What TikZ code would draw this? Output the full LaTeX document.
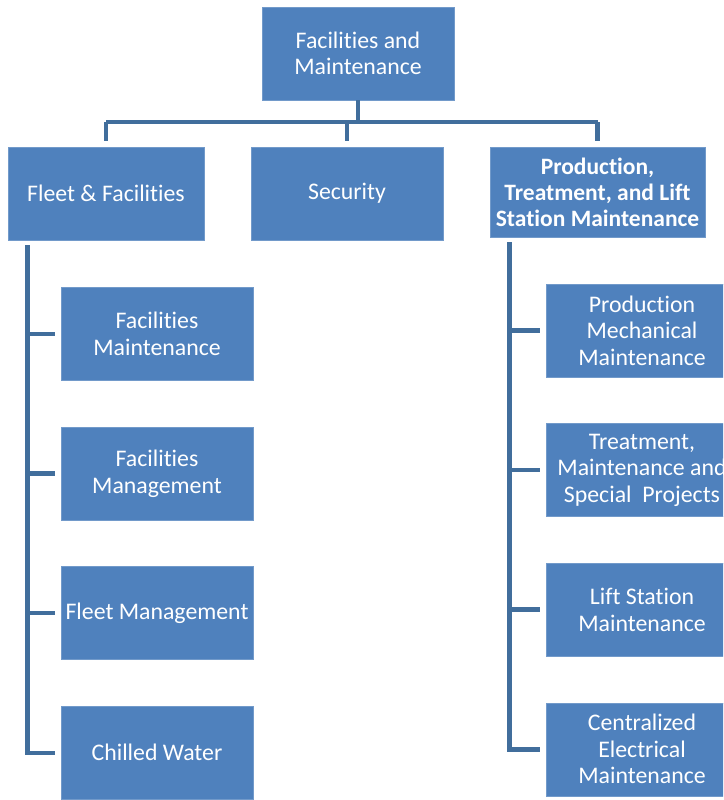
\documentclass[tikz,border=0pt]{standalone}
\usepackage{fontspec}
\setmainfont{Carlito}[Ligatures=NoCommon]
\usepackage{xcolor}
\usetikzlibrary{positioning}

\definecolor{boxblue}{RGB}{79,129,189}
\definecolor{lineblue}{RGB}{65,110,156}

\begin{document}
\begin{tikzpicture}[
  x=1pt, y=-1pt,
  box/.style={fill=boxblue, draw=boxblue!80!white, line width=0.6pt, text=white,
              minimum width=192pt, minimum height=93pt, align=center,
              font=\fontsize{23.8}{26.5}\selectfont, inner sep=1pt},
  conn/.style={draw=lineblue, line width=4.5pt},
  node distance=46pt
]
  \useasboundingbox (0,0) rectangle (723,800);
  \clip (0,0) rectangle (723,800);

  % top level
  \node[box] (head) at (358,53.5) {Facilities and\\Maintenance};

  % second level
  \node[box, minimum width=196pt] (fleet) at (106,193.5) {Fleet \& Facilities};
  \node[box] (security) at (347,193.5) {Security};
  \node[box, minimum width=215pt, minimum height=90pt, font=\fontsize{23.5}{26}\selectfont\bfseries]
    (prod) at (597.5,192) {Production,\\Treatment, and Lift\\Station Maintenance};

  % fleet & facilities units
  \node[box] (fmaint) at (157,334) {Facilities\\Maintenance};
  \node[box, below=of fmaint] (fmgmt) {Facilities\\Management};
  \node[box, below=of fmgmt] (fleetmgmt) {Fleet Management};
  \node[box, below=of fleetmgmt] (chilled) {Chilled Water};

  % production units
  \node[box] (pmech) at (642,330.5) {Production\\Mechanical\\Maintenance};
  \node[box, below=of pmech] (treat) {Treatment,\\Maintenance and\\Special\ \ Projects};
  \node[box, below=of treat] (lift) {Lift Station\\Maintenance};
  \node[box, below=of lift] (elec) {Centralized\\Electrical\\Maintenance};

  % connectors, top
  \coordinate (bar) at (358,122);
  \draw[conn] (head.south) -- (bar);
  \draw[conn] (fleet.north |- bar) -- (prod.north |- bar);
  \draw[conn, shorten >=6pt] (bar -| fleet.north) -- (fleet.north);
  \draw[conn, shorten >=6pt] (bar -| security.north) -- (security.north);
  \draw[conn, shorten >=6pt] (bar -| prod.north) -- (prod.north);

  % left spine
  \coordinate (spineL) at ([xshift=20pt, yshift=-5pt]fleet.south west);
  \draw[conn] (spineL) |- ([xshift=-6pt]chilled.west);
  \foreach \n in {fmaint, fmgmt, fleetmgmt}
    \draw[conn] (spineL |- \n.west) -- ([xshift=-6pt]\n.west);

  % right spine
  \coordinate (spineR) at ([xshift=20pt, yshift=-5pt]prod.south west);
  \draw[conn] (spineR) |- ([xshift=-6pt]elec.west);
  \foreach \n in {pmech, treat, lift}
    \draw[conn] (spineR |- \n.west) -- ([xshift=-6pt]\n.west);
\end{tikzpicture}
\end{document}
